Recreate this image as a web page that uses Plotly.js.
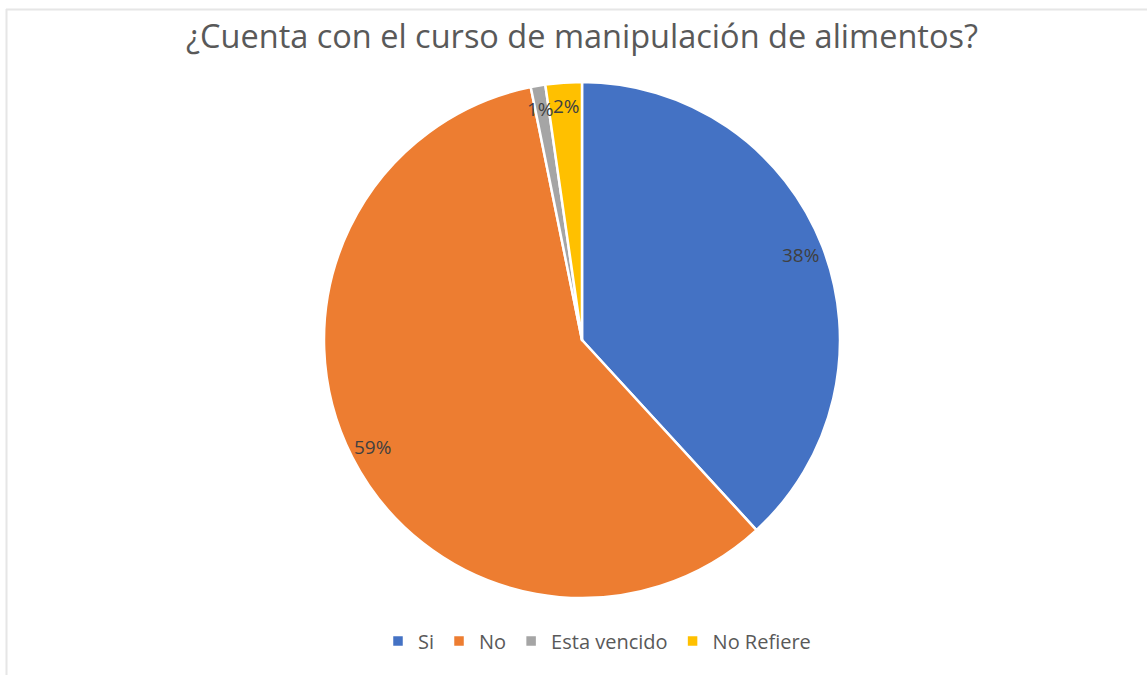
<!DOCTYPE html>
<html>
<head>
<meta charset="utf-8">
<script src="https://cdn.plot.ly/plotly-3.0.1.min.js"></script>
<style>html,body{margin:0;padding:0;background:#fff;}#chart{width:1147px;height:675px;}</style>
</head>
<body>
<div id="chart"></div>
<script>
const categories = ["Si", "No", "Esta vencido", "No Refiere"];
const counts = [84, 129, 2, 5];
const colors = ["#4472C4", "#ED7D31", "#A5A5A5", "#FFC000"];
const titleText = "¿Cuenta con el curso de manipulación de alimentos?";

const W = 1147, H = 675;
const cx = 582, cy = 340, R = 258;
const domX = [(cx - R) / W, (cx + R) / W];
const domY = [1 - (cy + R) / H, 1 - (cy - R) / H];
const labelSize = 19;

const total = counts.reduce((a, b) => a + b, 0);
const pts = [];
let cum = 0;
counts.forEach((v) => {
  const mid = (cum + v / 2) / total * 2 * Math.PI;
  cum += v;
  const rf = 0.91 * R;
  const txt = Math.round(v / total * 100) + "%";
  pts.push({x: cx + rf * Math.sin(mid), y: cy - rf * Math.cos(mid), txt: txt, w: txt.length * 0.62 * labelSize + 2});
});
// simple collision resolution between neighbouring labels
for (let i = 0; i < pts.length; i++) {
  const a = pts[i], b = pts[(i + 1) % pts.length];
  if (Math.abs(a.y - b.y) < labelSize * 1.2) {
    const need = (a.w + b.w) / 2;
    const d = Math.abs(b.x - a.x);
    if (d < need) {
      const push = (need - d) / 2;
      if (a.x < b.x) { a.x -= push; b.x += push; } else { a.x += push; b.x -= push; }
    }
  }
}
const annotations = pts.map(p => ({
  x: p.x / W, y: 1 - p.y / H, xref: "paper", yref: "paper",
  text: p.txt, showarrow: false,
  font: {family: "Open Sans, sans-serif", size: labelSize, color: "#404040"},
  xanchor: "center", yanchor: "middle"
}));

const data = [{
  type: "pie",
  labels: categories,
  values: counts,
  marker: {colors: colors, line: {color: "#ffffff", width: 2.5}},
  sort: false,
  direction: "clockwise",
  rotation: 0,
  textinfo: "none",
  hoverinfo: "label+percent",
  domain: {x: domX, y: domY}
}];

const layout = {
  width: W, height: H,
  margin: {l: 0, r: 0, t: 0, b: 0},
  paper_bgcolor: "#ffffff",
  title: {
    text: titleText,
    x: cx / W, xref: "paper", xanchor: "center",
    y: 1 - 37 / H, yref: "container", yanchor: "middle",
    font: {family: "Open Sans, sans-serif", size: 32.5, color: "#595959"}
  },
  showlegend: true,
  legend: {
    orientation: "h",
    x: 597 / W, xanchor: "center",
    y: 1 - 641 / H, yanchor: "middle",
    font: {family: "Open Sans, sans-serif", size: 20, color: "#595959"},
    itemclick: false
  },
  annotations: annotations,
  shapes: [
    {type: "line", xref: "paper", yref: "paper", x0: 6 / W, x1: 1, y0: 1 - 9.5 / H, y1: 1 - 9.5 / H, line: {color: "#e6e6e6", width: 2}},
    {type: "line", xref: "paper", yref: "paper", x0: 6.5 / W, x1: 6.5 / W, y0: 1 - 9 / H, y1: 0, line: {color: "#e6e6e6", width: 2}}
  ]
};

Plotly.newPlot("chart", data, layout, {displayModeBar: false, staticPlot: true});
</script>
</body>
</html>
